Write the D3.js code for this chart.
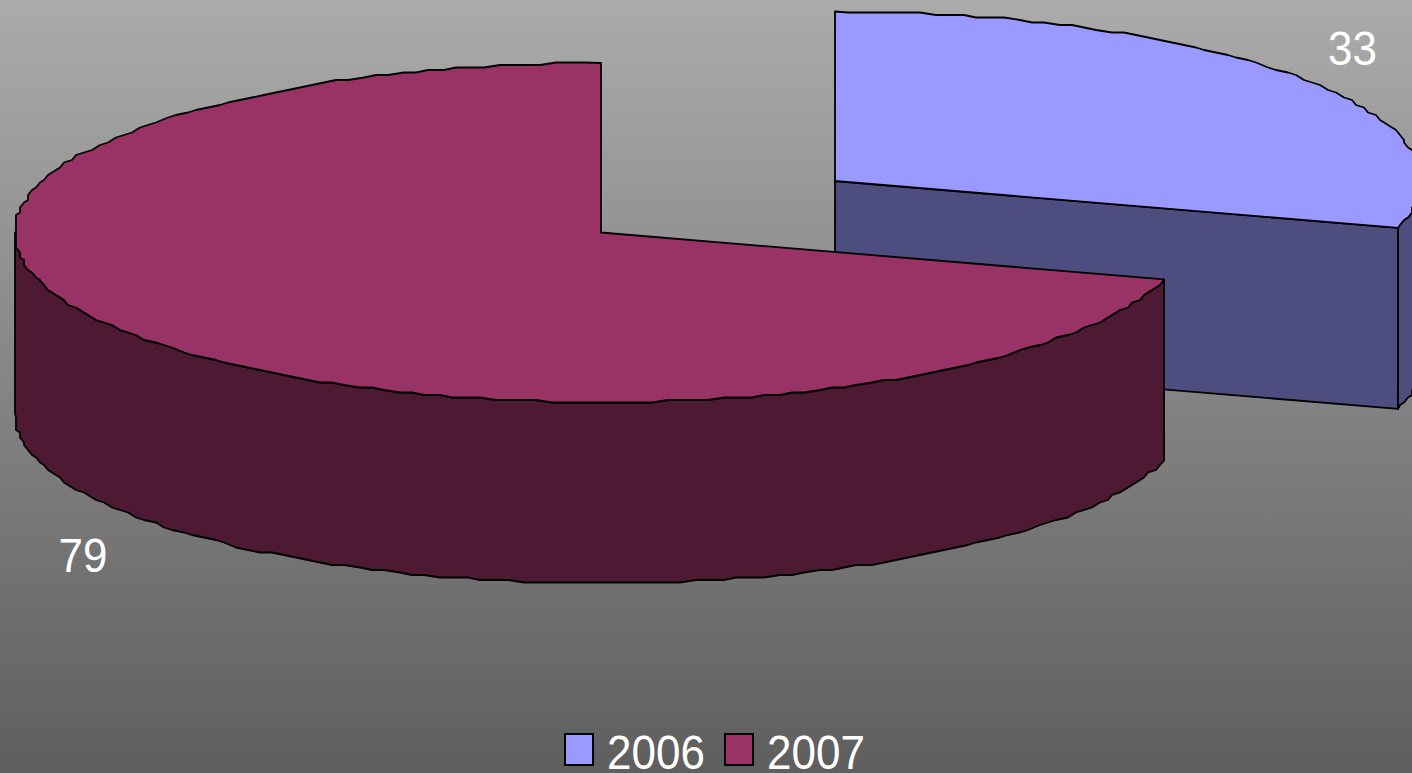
<!DOCTYPE html>
<html><head><meta charset="utf-8">
<script src="https://cdn.jsdelivr.net/npm/d3@7"></script>
<style>html,body{margin:0;padding:0;overflow:hidden;background:#808080}svg{display:block}text{font-family:"Liberation Sans",Arial,sans-serif;fill:#fff}</style>
</head><body><svg id="c" width="1412" height="773"></svg>
<script>
const categories = ["2006","2007"];
const values = [33,79];
const topColors = ["#9999FF","#993366"];
const wallColors = ["#4D4D80","#4D1933"];

const W=1412,H=773;
const svg=d3.select("#c");
const defs=svg.append("defs");
const g=defs.append("linearGradient").attr("id","bg").attr("x1",0).attr("y1",0).attr("x2",0).attr("y2",1);
g.append("stop").attr("offset",0).attr("stop-color","#ababab");
g.append("stop").attr("offset",1).attr("stop-color","#5e5e5e");
svg.append("rect").attr("width",W).attr("height",H).attr("fill","url(#bg)");

const pie=d3.pie().value(d=>d).sort(null);
const arcs=pie(values);
const centers=[[835,181],[601,232.5]];
const rx=586, ry=169.5, depth=181;
const line=d3.line().curve(d3.curveLinear);
const step=1.4*Math.PI/180;
function pt(i,t,dz=0){
  const c=centers[i];
  return [c[0]+rx*Math.sin(t), c[1]-ry*Math.cos(t)+dz];
}
// the original's outline steps along a coarse device grid: angles share one
// global grid so the wall and the top face trace the same stepped rim
function rim(i,a,b,dz=0){
  const lo=Math.min(a,b),hi=Math.max(a,b);
  const ks=d3.range(Math.ceil(lo/step+0.3),Math.floor(hi/step-0.3)+1);
  const pts=ks.map(k=>{
    const p=pt(i,k*step,dz);
    return [Math.round(p[0]/4)*4,Math.round(p[1]/2.5)*2.5];
  });
  const out=[pt(i,lo,dz)].concat(pts,[pt(i,hi,dz)]);
  return a<=b?out:out.reverse();
}
const draw=svg.append("g");
arcs.forEach((d,i)=>{
  const c=centers[i];
  const gg=draw.append("g");
  const a=d.startAngle,b=d.endAngle;
  const sty=(s,f)=>s.attr("fill",f).attr("stroke","#000").attr("stroke-width",1.8).attr("stroke-linejoin","round");
  if(i===0){
    const e=pt(i,b);
    sty(gg.append("path").attr("d",line([c,e,[e[0],e[1]+depth],[c[0],c[1]+depth]])+"Z"),wallColors[i]);
  }
  const wa=Math.max(a,Math.PI/2), wb=Math.min(b,Math.PI*1.5);
  if(wb>wa){
    const t=rim(i,wa,wb), u=rim(i,wb,wa,depth);
    sty(gg.append("path").attr("d",line(t.concat(u))+"Z"),wallColors[i]);
  }
  sty(gg.append("path").attr("d",line([c].concat(rim(i,a,b)))+"Z"),topColors[i]);
});

const labelPos=[[1352.5,65],[83,572]];
function label(txt,x,y,anchor){
  svg.append("text").attr("text-anchor",anchor).attr("font-size",44)
    .attr("transform",`translate(${x},${y}) scale(1,1.1)`).text(txt);
}
values.forEach((v,i)=>label(v,labelPos[i][0],labelPos[i][1],"middle"));

const swX=[565,725], txX=[607,767];
categories.forEach((c,i)=>{
  svg.append("rect").attr("x",swX[i]).attr("y",734).attr("width",28).attr("height",31)
    .attr("fill",topColors[i]).attr("stroke","#000").attr("stroke-width",2);
  label(c,txX[i],768.5,"start");
});
</script></body></html>
